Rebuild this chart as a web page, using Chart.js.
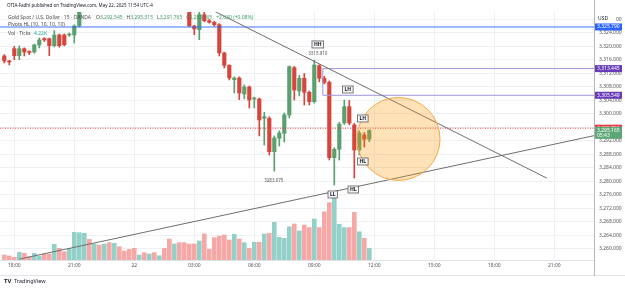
<!DOCTYPE html>
<html>
<head>
<meta charset="utf-8">
<script src="https://cdn.jsdelivr.net/npm/chart.js@4.4.0/dist/chart.umd.min.js"></script>
<style>
  html, body { margin: 0; padding: 0; background: #fff; }
  canvas { display: block; }
</style>
</head>
<body>
<canvas id="chart" width="625" height="288"></canvas>
<script>
// 15 min candles, index 0 = 17:30 May 21 ... 73 = 11:45 May 22
const opens = [3317.19, 3315.71, 3319.35, 3317.28, 3319.35, 3318.37, 3318.37, 3320.45, 3322.31, 3322.31,
  3320.24, 3323.41, 3323.41, 3323.41, 3323.41, 3326.08, 3331.00, 3333.50, 3332.20, 3335.00,
  3333.80, 3336.40, 3335.10, 3337.20, 3336.00, 3334.90, 3333.70, 3332.60, 3333.10, 3332.40,
  3333.00, 3332.30, 3332.80, 3331.90, 3330.60, 3331.80, 3331.00, 3330.60, 3326.08, 3324.98,
  3329.42, 3327.65, 3327.17, 3326.46, 3318.08, 3314.43, 3310.17, 3310.67, 3305.93, 3308.00,
  3304.45, 3304.45, 3298.73, 3298.73, 3288.83, 3292.80, 3294.28, 3299.71, 3313.72, 3306.82,
  3310.58, 3306.43, 3303.65, 3314.31, 3310.58, 3309.39, 3287.05, 3289.54, 3297.34, 3302.17,
  3296.74, 3289.33, 3293.80, 3292.545];
const highs = [3317.60, 3315.90, 3320.06, 3320.15, 3319.60, 3318.76, 3320.70, 3322.52, 3322.60, 3322.50,
  3324.68, 3323.70, 3323.70, 3324.00, 3326.40, 3332.00, 3334.00, 3334.20, 3335.60, 3335.40,
  3336.90, 3336.80, 3337.80, 3337.60, 3336.30, 3335.20, 3334.00, 3333.50, 3333.40, 3333.40,
  3333.30, 3333.20, 3333.10, 3332.20, 3332.10, 3332.10, 3331.30, 3331.00, 3326.30, 3330.50,
  3330.22, 3328.00, 3327.50, 3326.80, 3318.30, 3314.60, 3311.00, 3311.00, 3308.60, 3308.30,
  3305.00, 3304.70, 3300.50, 3299.20, 3293.50, 3295.00, 3300.30, 3314.22, 3314.10, 3311.50,
  3312.00, 3306.80, 3315.91, 3314.60, 3311.20, 3309.80, 3290.00, 3297.50, 3304.15, 3304.00,
  3297.20, 3295.00, 3294.50, 3295.315];
const lows = [3315.11, 3314.52, 3316.09, 3316.09, 3317.19, 3317.57, 3318.00, 3319.56, 3321.50, 3317.28,
  3319.90, 3319.80, 3320.20, 3323.00, 3321.04, 3325.80, 3330.80, 3331.90, 3331.90, 3333.40,
  3333.50, 3334.80, 3334.90, 3335.70, 3334.60, 3333.40, 3332.30, 3332.20, 3332.10, 3332.00,
  3332.00, 3332.00, 3331.60, 3330.30, 3330.40, 3330.70, 3330.40, 3325.90, 3323.50, 3322.02,
  3327.30, 3326.90, 3326.00, 3317.19, 3313.63, 3310.08, 3306.22, 3304.24, 3304.45, 3301.78,
  3301.80, 3293.50, 3290.81, 3287.85, 3283.075, 3290.52, 3291.70, 3298.82, 3304.15, 3305.34,
  3302.67, 3302.67, 3303.20, 3309.50, 3308.90, 3286.37, 3278.96, 3286.37, 3296.90, 3296.80,
  3281.04, 3287.85, 3290.20, 3291.765];
const closes = [3315.71, 3315.41, 3317.28, 3319.35, 3318.37, 3318.23, 3320.45, 3321.93, 3321.93, 3320.24,
  3323.41, 3320.24, 3320.53, 3323.71, 3326.08, 3331.00, 3333.50, 3332.20, 3335.00, 3333.80,
  3336.40, 3335.10, 3337.20, 3336.00, 3334.90, 3333.70, 3332.60, 3333.10, 3332.40, 3333.00,
  3332.30, 3332.80, 3331.90, 3330.60, 3331.80, 3331.00, 3330.60, 3326.08, 3325.19, 3329.42,
  3327.65, 3327.17, 3326.46, 3318.08, 3314.43, 3310.67, 3310.67, 3306.22, 3308.00, 3304.15,
  3304.60, 3298.23, 3299.20, 3288.83, 3292.89, 3294.37, 3299.71, 3314.02, 3307.11, 3310.58,
  3306.43, 3303.65, 3314.52, 3310.58, 3309.39, 3287.05, 3289.54, 3297.04, 3302.17, 3297.34,
  3289.33, 3294.37, 3292.545, 3295.165];
// volume in thousands of ticks
const volumes = [1.8, 1.44, 0.97, 2.78, 2.42, 1.19, 2.42, 1.44, 2.17, 2.17,
  5.67, 4.22, 3.0, 4.22, 10.0, 9.86, 9.64, 7.47, 5.78, 5.42,
  5.78, 6.25, 6.03, 4.8, 3.25, 3.86, 4.22, 1.8, 2.64, 2.17,
  2.64, 1.55, 4.22, 7.58, 5.78, 6.25, 6.25, 5.78, 5.78, 6.86,
  9.39, 3.86, 8.05, 8.66, 9.03, 7.22, 9.28, 7.58, 6.25, 4.22,
  6.39, 6.39, 9.39, 9.64, 13.6, 8.19, 7.83, 12.0, 13.0, 10.5,
  12.6, 11.7, 14.8, 11.7, 17.4, 20.7, 22.3, 12.9, 11.7, 11.7,
  17.2, 10.2, 7.83, 4.22];

const timeTicks = [2, 14, 26, 38, 50, 62, 74, 86, 98, 110];
const timeLabels = ["18:00", "21:00", "22", "03:00", "06:00", "09:00", "12:00", "15:00", "18:00", "21:00"];
const priceTicks = [3260, 3264, 3268, 3272, 3276, 3280, 3284, 3288, 3292, 3296, 3300, 3304, 3308, 3312, 3316, 3320, 3324, 3328];

// drawings
const levelPrices = [3325.79, 3313.445, 3305.549, 3295.79];
const levelLabels = ["3,325.790", "3,313.445", "3,305.549", "3,295.790"];
const levelColors = ["#2962ff", "#673ab7", "#673ab7", "#f23645"];
const lastPrice = 3295.165;
const lastLabel = "3,295.165";
const lastTimer = "05:43";
const zoneStart = 63.7;
const trendLines = [[[41, 3331.2], [108.5, 3281.0]], [[3, 3257.0], [118, 3293.6]]];
const circleCenter = [78.84, 3292.6];
const circleRadiusBars = 8.3;
const pivotTags = ["HH", "LH", "LH", "HL", "LL", "HL"];
const pivotX = [62.7, 68.7, 71.7, 71.7, 65.7, 69.8];
const pivotY = [3320.6, 3307.26, 3298.67, 3285.93, 3276.15, 3277.63];
const priceNotes = ["3315.910", "3283.075"];
const noteX = [62.7, 53.9];
const noteY = [3317.99, 3280.15];
const ohlcKeys = ["O", "H", "L", "C"];
const ohlcValues = ["3,292.545", "3,295.315", "3,291.765", "3,295.165"];

const UP = "#5a9f6e", DOWN = "#d6453c";
const candleColors = opens.map((o, i) => closes[i] >= o ? UP : DOWN);
const volColors = opens.map((o, i) => closes[i] >= o ? "#93d1c8" : "#f6a8a6");

const FONT = '"Noto Sans", sans-serif';

const overlay = {
  id: "overlay",
  afterDatasetsDraw(chart) {
    const { ctx, chartArea: a, scales: { x, y } } = chart;
    ctx.save();
    ctx.beginPath();
    ctx.rect(a.left, a.top, a.right - a.left, a.bottom - a.top);
    ctx.clip();

    // red dotted last close line
    let py = y.getPixelForValue(levelPrices[3]);
    ctx.strokeStyle = "#f23645";
    ctx.lineWidth = 1;
    ctx.setLineDash([1, 1.5]);
    ctx.beginPath(); ctx.moveTo(a.left, py); ctx.lineTo(a.right, py); ctx.stroke();
    ctx.setLineDash([]);

    // blue level
    py = y.getPixelForValue(levelPrices[0]);
    ctx.strokeStyle = "rgba(41,98,255,0.6)";
    ctx.lineWidth = 1.5;
    ctx.beginPath(); ctx.moveTo(a.left, py); ctx.lineTo(a.right, py); ctx.stroke();

    // purple zone
    const zx = x.getPixelForValue(zoneStart);
    const z1 = y.getPixelForValue(levelPrices[1]);
    const z2 = y.getPixelForValue(levelPrices[2]);
    ctx.strokeStyle = "#a293d8";
    ctx.lineWidth = 1;
    ctx.beginPath();
    ctx.moveTo(a.right, z1); ctx.lineTo(zx, z1); ctx.lineTo(zx, z2); ctx.lineTo(a.right, z2);
    ctx.stroke();

    // trend lines
    ctx.strokeStyle = "#6f6f6f";
    ctx.lineWidth = 1;
    trendLines.forEach(l => {
      ctx.beginPath();
      ctx.moveTo(x.getPixelForValue(l[0][0]), y.getPixelForValue(l[0][1]));
      ctx.lineTo(x.getPixelForValue(l[1][0]), y.getPixelForValue(l[1][1]));
      ctx.stroke();
    });

    // circle
    const cx = x.getPixelForValue(circleCenter[0]);
    const cy = y.getPixelForValue(circleCenter[1]);
    const r = x.getPixelForValue(circleCenter[0] + circleRadiusBars) - cx;
    ctx.beginPath();
    ctx.arc(cx, cy, r, 0, Math.PI * 2);
    ctx.fillStyle = "rgba(255,152,0,0.28)";
    ctx.fill();
    ctx.strokeStyle = "#f5a742";
    ctx.stroke();

    // pivot tags
    ctx.font = "bold 5px " + FONT;
    ctx.textAlign = "center";
    ctx.textBaseline = "middle";
    pivotTags.forEach((t, i) => {
      const px = x.getPixelForValue(pivotX[i]);
      const pyy = y.getPixelForValue(pivotY[i]);
      const w = ctx.measureText(t).width + 4;
      ctx.fillStyle = "#f4f4f4";
      ctx.fillRect(px - w / 2, pyy - 3.5, w, 7);
      ctx.strokeStyle = "#5d5d5d";
      ctx.lineWidth = 0.8;
      ctx.strokeRect(px - w / 2, pyy - 3.5, w, 7);
      ctx.fillStyle = "#131722";
      ctx.fillText(t, px, pyy + 0.3);
    });
    ctx.font = "4.5px " + FONT;
    ctx.fillStyle = "#555";
    priceNotes.forEach((t, i) => {
      ctx.fillText(t, x.getPixelForValue(noteX[i]), y.getPixelForValue(noteY[i]));
    });
    ctx.restore();
  },
  afterDraw(chart) {
    const { ctx, chartArea: a, scales: { y } } = chart;
    ctx.save();
    // bottom frame lines
    ctx.strokeStyle = "#e0e3eb";
    ctx.lineWidth = 1;
    ctx.beginPath(); ctx.moveTo(0, 275.5); ctx.lineTo(625, 275.5); ctx.stroke();
    ctx.strokeStyle = "#b2b5be";
    ctx.beginPath(); ctx.moveTo(a.right + 0.5, 0); ctx.lineTo(a.right + 0.5, 276); ctx.stroke();

    // axis price labels
    ctx.font = "5px " + FONT;
    ctx.textAlign = "left";
    ctx.textBaseline = "middle";
    levelPrices.forEach((p, i) => {
      const py = y.getPixelForValue(p);
      ctx.fillStyle = levelColors[i];
      ctx.fillRect(a.right + 1, py - 3.5, 27, 7);
      ctx.fillStyle = "#fff";
      ctx.fillText(levelLabels[i], a.right + 3, py);
    });
    const ly = y.getPixelForValue(lastPrice);
    ctx.fillStyle = "#5ba776";
    ctx.fillRect(a.right + 1, ly - 3.5, 27, 12);
    ctx.fillStyle = "#fff";
    ctx.fillText(lastLabel, a.right + 3, ly);
    ctx.fillText(lastTimer, a.right + 3, ly + 5.5);

    // USD
    ctx.fillStyle = "#fff";
    ctx.fillRect(a.right + 2, 13, 20, 10);
    ctx.fillStyle = "#131722";
    ctx.fillText("USD", a.right + 4, 18.5);

    // header
    ctx.font = "4.5px " + FONT;
    ctx.fillStyle = "#131722";
    ctx.fillText("OTIA-Fadhl published on TradingView.com, May 22, 2025 11:54 UTC-4", 7, 6);
    ctx.font = "5px " + FONT;
    ctx.fillStyle = "#4a4a4a";
    ctx.fillText("Gold Spot / U.S. Dollar \u00b7 15 \u00b7 OANDA", 8, 17.3);
    let hx = 96;
    ohlcKeys.forEach((k, i) => {
      ctx.fillStyle = "#4a4a4a";
      ctx.fillText(k, hx, 17.3);
      hx += ctx.measureText(k).width;
      ctx.fillStyle = "#3f9a67";
      ctx.fillText(ohlcValues[i], hx, 17.3);
      hx += ctx.measureText(ohlcValues[i]).width + 4;
    });
    ctx.fillStyle = "#3f9a67";
    ctx.fillText("+2.630 (+0.08%)", hx, 17.3);
    ctx.fillStyle = "#4a4a4a";
    ctx.fillText("Pivots HL (10, 10, 10, 10)", 8, 25);
    ctx.fillText("Vol \u00b7 Ticks", 8, 33.3);
    ctx.fillStyle = "#26a69a";
    ctx.fillText("4.22K", 34, 33.3);

    // logo
    ctx.fillStyle = "#131722";
    ctx.font = "bold 6px " + FONT;
    ctx.fillText("TV", 4, 281.5);
    ctx.font = "5.5px " + FONT;
    ctx.fillText("TradingView", 14, 281.5);
    ctx.restore();
  }
};

new Chart(document.getElementById("chart"), {
  type: "bar",
  data: {
    datasets: [
      {
        label: "body",
        data: opens.map((o, i) => ({ x: i, y: [o, closes[i]] })),
        backgroundColor: candleColors,
        barThickness: 3.5,
        minBarLength: 1,
        grouped: false,
        order: 0
      },
      {
        label: "wick",
        data: lows.map((l, i) => ({ x: i, y: [l, highs[i]] })),
        backgroundColor: candleColors,
        barThickness: 1,
        grouped: false,
        order: 1
      },
      {
        label: "volume",
        data: volumes.map((v, i) => ({ x: i, y: v })),
        backgroundColor: volColors,
        barThickness: 4,
        grouped: false,
        yAxisID: "v",
        order: 2
      }
    ]
  },
  options: {
    responsive: false,
    animation: false,
    devicePixelRatio: 1,
    layout: { padding: { top: 12, bottom: 13, left: 0, right: 0 } },
    plugins: { legend: { display: false }, tooltip: { enabled: false } },
    scales: {
      x: {
        type: "linear",
        offset: false,
        min: -0.86,
        max: 117.94,
        afterBuildTicks: s => { s.ticks = timeTicks.map(v => ({ value: v })); },
        afterFit: s => { s.height = 15; },
        ticks: {
          autoSkip: false,
          maxRotation: 0,
          padding: 3,
          color: "#555",
          font: { size: 5, family: FONT },
          callback: v => timeLabels[timeTicks.indexOf(v)]
        },
        grid: { color: "#eef0f4", drawTicks: false, offset: false },
        border: { color: "#e0e3eb" }
      },
      y: {
        position: "right",
        min: 3256.74,
        max: 3330.22,
        afterBuildTicks: s => { s.ticks = priceTicks.map(v => ({ value: v })); },
        afterFit: s => { s.width = 31; },
        ticks: {
          padding: 5,
          color: "#555",
          font: { size: 5, family: FONT },
          callback: v => v.toLocaleString("en-US", { minimumFractionDigits: 3, maximumFractionDigits: 3 })
        },
        grid: { color: "#eef0f4", drawTicks: false },
        border: { color: "#b2b5be" }
      },
      v: { display: false, min: 0, max: 89.5 }
    }
  },
  plugins: [overlay]
});
</script>
</body>
</html>
